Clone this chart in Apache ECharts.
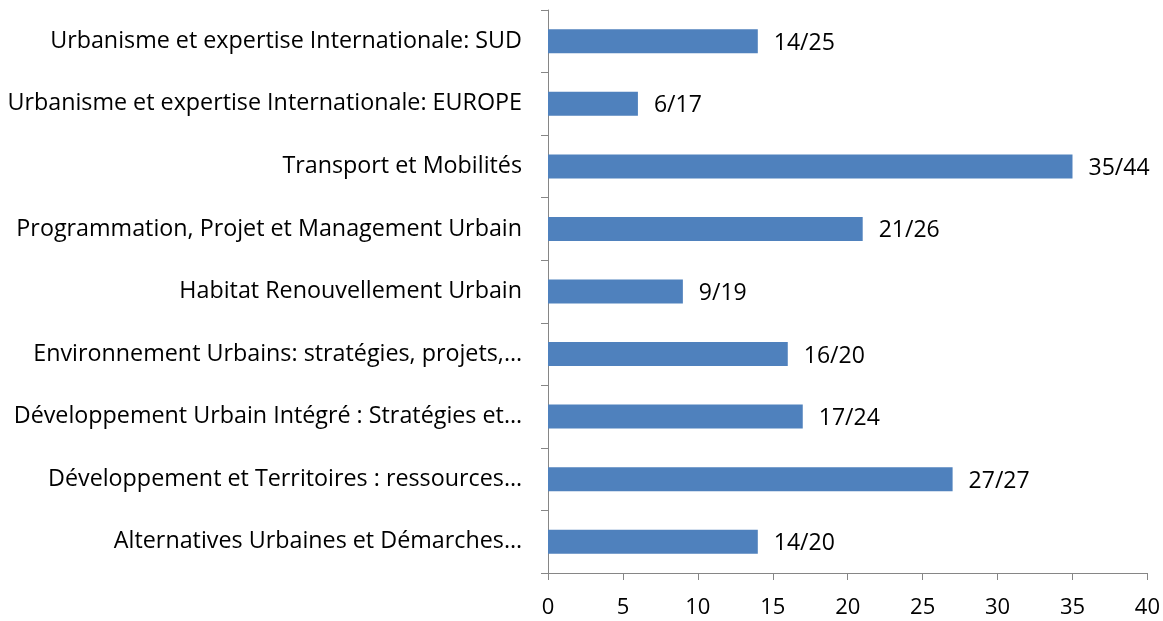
<!DOCTYPE html>
<html>
<head>
<meta charset="utf-8">
<script src="https://cdn.jsdelivr.net/npm/echarts@6/dist/echarts.min.js"></script>
<style>
  html, body { margin: 0; padding: 0; background: #fff; }
  #chart { width: 1163px; height: 621px; }
</style>
</head>
<body>
<div id="chart"></div>
<script>
// bottom to top, as the category axis draws them
const categories = [
  'Alternatives Urbaines et Démarches…',
  'Développement et Territoires : ressources…',
  'Développement Urbain Intégré : Stratégies et…',
  'Environnement Urbains: stratégies, projets,…',
  'Habitat Renouvellement Urbain',
  'Programmation, Projet et Management Urbain',
  'Transport et Mobilités',
  'Urbanisme et expertise Internationale: EUROPE',
  'Urbanisme et expertise Internationale: SUD'
]
const values = [14, 27, 17, 16, 9, 21, 35, 6, 14]
const totals = [20, 27, 24, 20, 19, 26, 44, 17, 25]

const font = '"Open Sans", sans-serif'
const axisGrey = '#868686'

const chart = echarts.init(document.getElementById('chart'))
const option = {
  animation: false,
  grid: {
    left: 548,
    right: 15,
    top: 10,
    bottom: 48,
    containLabel: false
  },
  xAxis: {
    type: 'value',
    min: 0,
    max: 40,
    interval: 5,
    splitLine: { show: false },
    axisLine: { show: true, lineStyle: { color: axisGrey, width: 1 } },
    axisTick: { show: true, length: 7, lineStyle: { color: axisGrey } },
    axisLabel: { color: '#000', fontFamily: font, fontSize: 22, margin: 24 }
  },
  yAxis: {
    type: 'category',
    data: categories,
    axisLine: { show: true, lineStyle: { color: axisGrey, width: 1 } },
    axisTick: { show: true, length: 7, lineStyle: { color: axisGrey } },
    axisLabel: {
      color: '#000',
      fontFamily: font,
      fontSize: 23.3,
      margin: 26,
      padding: [4, 0, 0, 0]
    }
  },
  series: [
    {
      type: 'bar',
      data: values,
      barWidth: 24,
      itemStyle: { color: '#4F81BD' },
      label: {
        show: true,
        position: 'right',
        distance: 16,
        offset: [0, 2],
        color: '#000',
        fontFamily: font,
        fontSize: 23,
        formatter: p => p.value + '/' + totals[p.dataIndex]
      }
    }
  ]
}
chart.setOption(option)
</script>
</body>
</html>
